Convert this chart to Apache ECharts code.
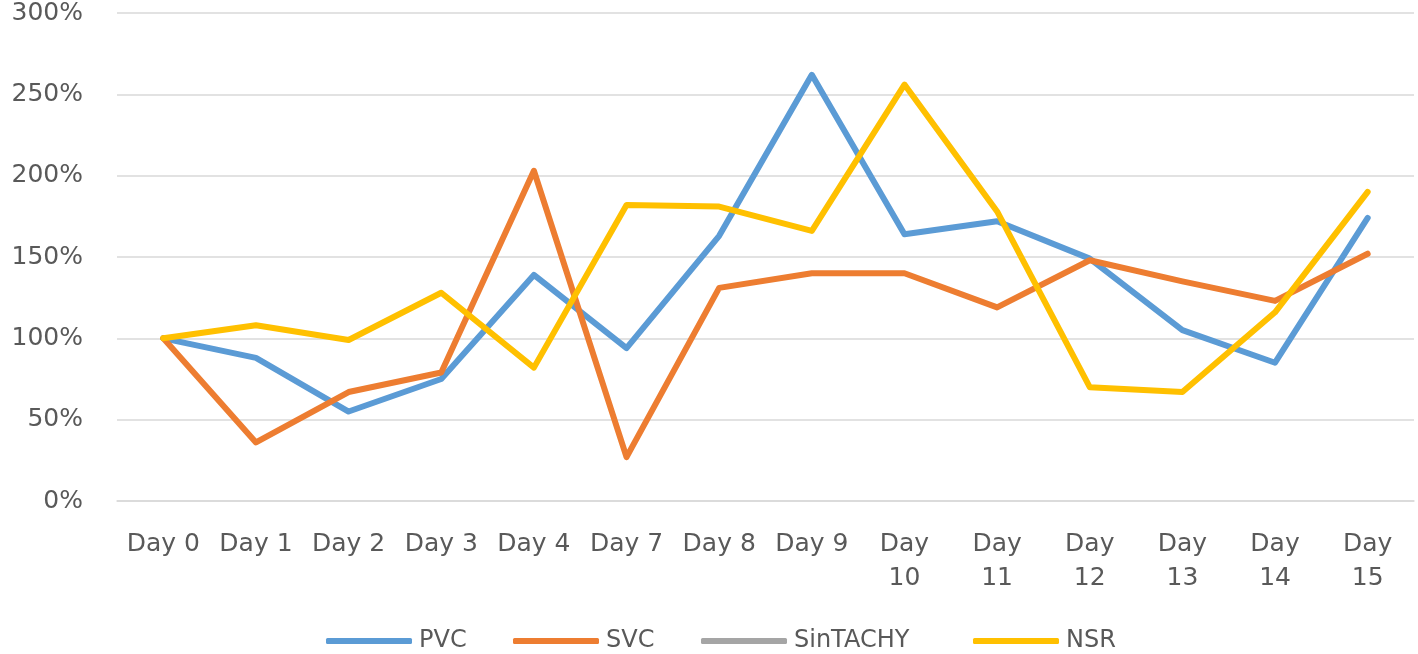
<!DOCTYPE html>
<html>
<head>
<meta charset="utf-8">
<script src="https://cdn.jsdelivr.net/npm/echarts@6/dist/echarts.min.js"></script>
<style>html,body{margin:0;padding:0;background:#fff;}#c{width:1418px;height:654px;}</style>
</head>
<body>
<div id="c"></div>
<script>
var categories = ['Day 0','Day 1','Day 2','Day 3','Day 4','Day 7','Day 8','Day 9','Day 10','Day 11','Day 12','Day 13','Day 14','Day 15'];
var pvc = [100, 88, 55, 75, 139, 94, 163, 262, 164, 172, 149, 105, 85, 174];
var svc = [100, 36, 67, 79, 203, 27, 131, 140, 140, 119, 148, 135, 123, 152];
var sintachy = [];
var nsr = [100, 108, 99, 128, 82, 182, 181, 166, 256, 178, 70, 67, 116, 190];
var yTicks = [0, 50, 100, 150, 200, 250, 300];
var seriesNames = ['PVC', 'SVC', 'SinTACHY', 'NSR'];

var chart = echarts.init(document.getElementById('c'));
var font = 'DejaVu Sans';
function mk(name, data, color) {
  return { name: name, type: 'line', data: data, showSymbol: false, symbol: 'none',
    lineStyle: { width: 6, color: color, cap: 'round', join: 'round' }, itemStyle: { color: color } };
}
var legendLeft = [321, 508, 696, 968];
var legends = seriesNames.map(function (n, i) {
  return {
    left: legendLeft[i], top: 624, itemWidth: 86, itemHeight: 6, itemGap: 0,
    icon: 'roundRect',
    textStyle: { fontFamily: font, fontSize: 24, color: '#595959', padding: [0, 0, 0, 2] },
    data: [n]
  };
});
chart.setOption({
  animation: false,
  grid: { left: 117, right: 4, top: 13, bottom: 153, containLabel: false },
  legend: legends,
  xAxis: {
    type: 'category', data: categories, boundaryGap: true,
    axisLine: { show: true, lineStyle: { color: '#D9D9D9', width: 1.5 } },
    axisTick: { show: false },
    axisLabel: { interval: 0, margin: 26, fontFamily: font, fontSize: 25, color: '#595959', lineHeight: 34,
      formatter: function (v) { return v.length > 5 ? v.replace(' ', '\n') : v; } }
  },
  yAxis: {
    type: 'value', min: yTicks[0], max: yTicks[yTicks.length - 1], interval: 50,
    axisLine: { show: false }, axisTick: { show: false },
    splitLine: { lineStyle: { color: '#D9D9D9', width: 1.5 } },
    axisLabel: { margin: 34, fontFamily: font, fontSize: 25, color: '#595959',
      formatter: function (v) { return v + '%'; } }
  },
  series: [
    mk('PVC', pvc, '#5B9BD5'),
    mk('SVC', svc, '#ED7D31'),
    mk('SinTACHY', sintachy, '#A5A5A5'),
    mk('NSR', nsr, '#FFC000')
  ]
});
</script>
</body>
</html>
